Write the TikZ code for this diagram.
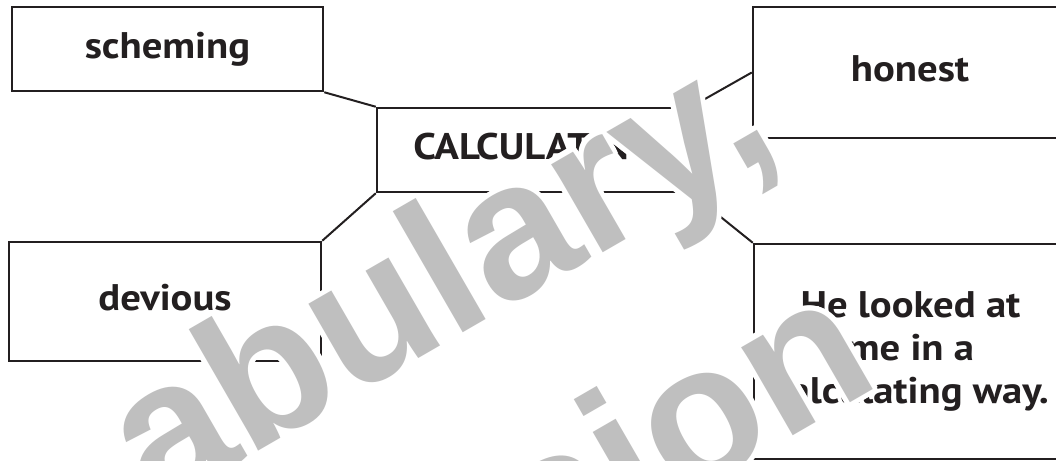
\documentclass[tikz,border=0pt]{standalone}
\usepackage{fontspec}
\setmainfont{PT Sans}[FakeStretch=1.1]
\newfontfamily\markfont{Liberation Sans}
\usetikzlibrary{calc}
\definecolor{ink}{HTML}{231F20}
\definecolor{markgrey}{HTML}{BFBFBF}

\begin{document}
\begin{tikzpicture}[x=1pt,y=-1pt,
    boxed/.style={draw=ink, line width=2.5pt, text=ink, inner sep=0pt,
      font=\bfseries\fontsize{37}{43}\selectfont},
    wordbox/.style={boxed, text height=27pt, text depth=8.5pt},
    link/.style={draw=ink, line width=2pt},
    markword/.style={font=\markfont\bfseries\fontsize{193}{232}\selectfont,
      rotate=30, anchor=base west, inner sep=0pt}]
  \path[use as bounding box, fill=white] (0,0) rectangle (1056,460);
  \clip (0,0) rectangle (1056,460);

  % word boxes
  \node[wordbox, minimum width=311pt, minimum height=84pt] (scheming) at (167.5,49) {scheming};
  \node[wordbox, minimum width=313pt, minimum height=84pt] (calc) at (533.5,150) {CALCULATING};
  \node[wordbox, minimum width=312pt, minimum height=119pt] (devious) at (165,301.5) {devious};
  \node[wordbox, minimum width=314pt, minimum height=131pt] (honest) at (910,72.5) {honest};
  \node[boxed, align=center, minimum width=313pt, minimum height=215pt] (sentence) at (910.5,351.5)
    {He looked at\\me in a\\calculating way.};

  \draw[link] (scheming.south east) -- (calc.north west);
  \draw[link] (calc.south west) -- (devious.north east);
  \draw[link] (calc.north east) -- (honest.west);
  \draw[link] (calc.south east) -- (sentence.north west);

  % watermark with white rim
  \coordinate (markA) at (154.3,511.3);
  \coordinate (markB) at (539.6,581.7);
  \foreach \ang in {0,20,...,340} {
    \node[markword, text=white] at ($(markA)+(\ang:5)$) {abulary,};
    \node[markword, text=white] at ($(markB)+(\ang:5)$) {sion};
  }
  \node[markword, text=markgrey] (markone) at (markA) {abulary,};
  \node[markword, text=markgrey] (marktwo) at (markB) {sion};
\end{tikzpicture}
\end{document}
